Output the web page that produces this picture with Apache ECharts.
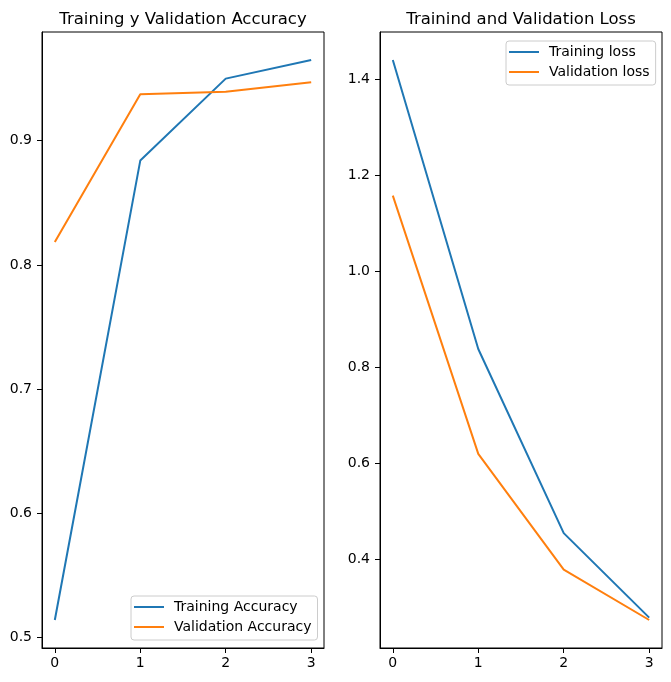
<!DOCTYPE html>
<html>
<head>
<meta charset="utf-8">
<script src="https://cdn.jsdelivr.net/npm/echarts@6/dist/echarts.min.js"></script>
<style>html,body{margin:0;padding:0;background:#fff}#c{width:671px;height:682px}</style>
</head>
<body>
<div id="c"></div>
<script>
const epochs = [0, 1, 2, 3];
const trainAcc = [0.514, 0.884, 0.950, 0.965];
const valAcc = [0.8185, 0.9375, 0.9395, 0.947];
const trainLoss = [1.4396, 0.8375, 0.454, 0.278];
const valLoss = [1.157, 0.619, 0.378, 0.273];
const accTicks = [0.5, 0.6, 0.7, 0.8, 0.9];
const lossTicks = [0.4, 0.6, 0.8, 1.0, 1.2, 1.4];
const xTicks = [0, 1, 2, 3];

function lim(arrs) {
  const all = [].concat(...arrs);
  const mn = Math.min(...all), mx = Math.max(...all);
  const m = (mx - mn) * 0.05;
  return [mn - m, mx + m];
}
const xl = lim([epochs]);
const accL = lim([trainAcc, valAcc]);
const lossL = lim([trainLoss, valLoss]);
const pts = (ys) => epochs.map((e, i) => [e, ys[i]]);

const FONT = 'DejaVu Sans';
const C1 = '#1f77b4', C2 = '#ff7f0e';

function xAxis(gi) {
  return {
    type: 'value', gridIndex: gi, min: xl[0], max: xl[1],
    axisLine: { show: true, onZero: false, lineStyle: { color: '#000', width: 1 } },
    axisTick: { show: true, length: 5, customValues: xTicks, lineStyle: { color: '#000' } },
    axisLabel: { customValues: xTicks, color: '#000', fontFamily: FONT, fontSize: 14, margin: 8, formatter: v => String(Math.round(v)) },
    splitLine: { show: false }
  };
}
function yAxis(gi, l, ticks) {
  return {
    type: 'value', gridIndex: gi, min: l[0], max: l[1],
    axisLine: { show: true, onZero: false, lineStyle: { color: '#000', width: 1 } },
    axisTick: { show: true, length: 5, customValues: ticks, lineStyle: { color: '#000' } },
    axisLabel: { customValues: ticks, color: '#000', fontFamily: FONT, fontSize: 14, margin: 10, formatter: v => v.toFixed(1) },
    splitLine: { show: false }
  };
}
function legend(names, left, top) {
  return {
    data: names, orient: 'vertical', left: left, top: top,
    icon: 'rect', itemWidth: 30, itemHeight: 2, itemGap: 6,
    padding: [4, 6, 6, 3],
    backgroundColor: 'rgba(255,255,255,0.8)', borderColor: '#cccccc', borderWidth: 1, borderRadius: 3,
    textStyle: { fontFamily: FONT, fontSize: 14, color: '#000', lineHeight: 14, padding: [0, 0, 0, 5] }
  };
}

const chart = echarts.init(document.getElementById('c'), null, { renderer: 'canvas' });
chart.setOption({
  animation: false,
  backgroundColor: '#fff',
  title: [
    { text: 'Training y Validation Accuracy', left: 183, top: 11, padding: 0, textAlign: 'center', textStyle: { fontFamily: FONT, fontSize: 16.5, fontWeight: 'normal', color: '#000' } },
    { text: 'Trainind and Validation Loss', left: 521, top: 11, padding: 0, textAlign: 'center', textStyle: { fontFamily: FONT, fontSize: 16.5, fontWeight: 'normal', color: '#000' } }
  ],
  grid: [
    { left: 42, top: 32, width: 282, height: 616, show: true, borderColor: '#000', borderWidth: 1, backgroundColor: 'transparent' },
    { left: 380, top: 32, width: 282, height: 616, show: true, borderColor: '#000', borderWidth: 1, backgroundColor: 'transparent' }
  ],
  xAxis: [xAxis(0), xAxis(1)],
  yAxis: [yAxis(0, accL, accTicks), yAxis(1, lossL, lossTicks)],
  legend: [
    legend(['Training Accuracy', 'Validation Accuracy'], 131, 596),
    legend(['Training loss', 'Validation loss'], 506, 41)
  ],
  series: [
    { name: 'Training Accuracy', type: 'line', xAxisIndex: 0, yAxisIndex: 0, data: pts(trainAcc), showSymbol: false, symbol: 'none', color: C1, lineStyle: { width: 2, color: C1 } },
    { name: 'Validation Accuracy', type: 'line', xAxisIndex: 0, yAxisIndex: 0, data: pts(valAcc), showSymbol: false, symbol: 'none', color: C2, lineStyle: { width: 2, color: C2 } },
    { name: 'Training loss', type: 'line', xAxisIndex: 1, yAxisIndex: 1, data: pts(trainLoss), showSymbol: false, symbol: 'none', color: C1, lineStyle: { width: 2, color: C1 } },
    { name: 'Validation loss', type: 'line', xAxisIndex: 1, yAxisIndex: 1, data: pts(valLoss), showSymbol: false, symbol: 'none', color: C2, lineStyle: { width: 2, color: C2 } }
  ]
});
</script>
</body>
</html>
